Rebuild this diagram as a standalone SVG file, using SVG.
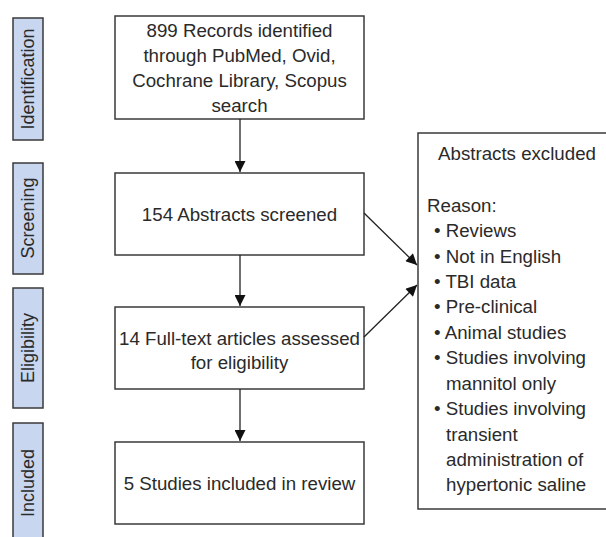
<svg xmlns="http://www.w3.org/2000/svg" width="606" height="537" viewBox="0 0 606 537">
<defs>
<style>
.box{fill:#fff;stroke:#3a3a3a;stroke-width:1.5}
.side{fill:#c8d6ef;stroke:#3a3a3a;stroke-width:1.5}
text{font-family:"Liberation Sans",Arial,sans-serif;font-size:18.7px;fill:#2a2a2a}
.s{font-size:18px}
.c{text-anchor:middle}
.conn{stroke:#222;stroke-width:1.3;fill:none;marker-end:url(#ah)}
</style>
<marker id="ah" viewBox="0 0 10 11" refX="11" refY="5.5" markerWidth="11" markerHeight="11" markerUnits="userSpaceOnUse" orient="auto">
<path d="M0,0 L11,5.5 L0,11 z" fill="#111"/>
</marker>
</defs>
<rect width="606" height="537" fill="#fff"/>
<g id="side-identification"><rect class="side" x="13" y="18" width="30" height="122"/><text class="c s" transform="translate(34,79) rotate(-90)">Identification</text></g>
<g id="side-screening"><rect class="side" x="13" y="163" width="30" height="111"/><text class="c s" transform="translate(34,218) rotate(-90)">Screening</text></g>
<g id="side-eligibility"><rect class="side" x="13" y="288" width="30" height="120"/><text class="c s" transform="translate(34,348) rotate(-90)">Eligibility</text></g>
<g id="side-included"><rect class="side" x="13" y="423" width="30" height="124"/><text class="c s" transform="translate(34,483) rotate(-90)">Included</text></g>
<g id="records"><rect class="box" x="115" y="16" width="249" height="103"/>
<text class="c" x="239.5" y="37">899 Records identified</text>
<text class="c" x="239.5" y="62">through PubMed, Ovid,</text>
<text class="c" x="239.5" y="87">Cochrane Library, Scopus</text>
<text class="c" x="239.5" y="112">search</text></g>
<g id="screened"><rect class="box" x="115" y="173" width="249" height="82"/>
<text class="c" x="239.5" y="221">154 Abstracts screened</text></g>
<g id="fulltext"><rect class="box" x="115" y="307" width="249" height="82"/>
<text class="c" x="239.5" y="345">14 Full-text articles assessed</text>
<text class="c" x="239.5" y="369">for eligibility</text></g>
<g id="included"><rect class="box" x="115" y="442" width="249" height="82"/>
<text class="c" x="239.5" y="490">5 Studies included in review</text></g>
<g id="excluded"><rect class="box" x="418" y="133" width="200" height="376"/>
<text class="c" x="517" y="160">Abstracts excluded</text>
<text x="427" y="212">Reason:</text>
<g>
<text x="434" y="237">• Reviews</text>
<text x="434" y="263">• Not in English</text>
<text x="434" y="288">• TBI data</text>
<text x="434" y="313">• Pre-clinical</text>
<text x="434" y="339">• Animal studies</text>
<text x="434" y="364">• Studies involving</text>
<text x="446" y="390">mannitol only</text>
<text x="434" y="415">• Studies involving</text>
<text x="446" y="441">transient</text>
<text x="446" y="466">administration of</text>
<text x="446" y="491">hypertonic saline</text>
</g></g>
<g id="connectors">
<line class="conn" x1="240" y1="119" x2="240" y2="172"/>
<line class="conn" x1="240" y1="255" x2="240" y2="306"/>
<line class="conn" x1="240" y1="389" x2="240" y2="441"/>
<line class="conn" x1="364" y1="213" x2="417" y2="265"/>
<line class="conn" x1="364" y1="337" x2="417" y2="285"/>
</g>
</svg>
